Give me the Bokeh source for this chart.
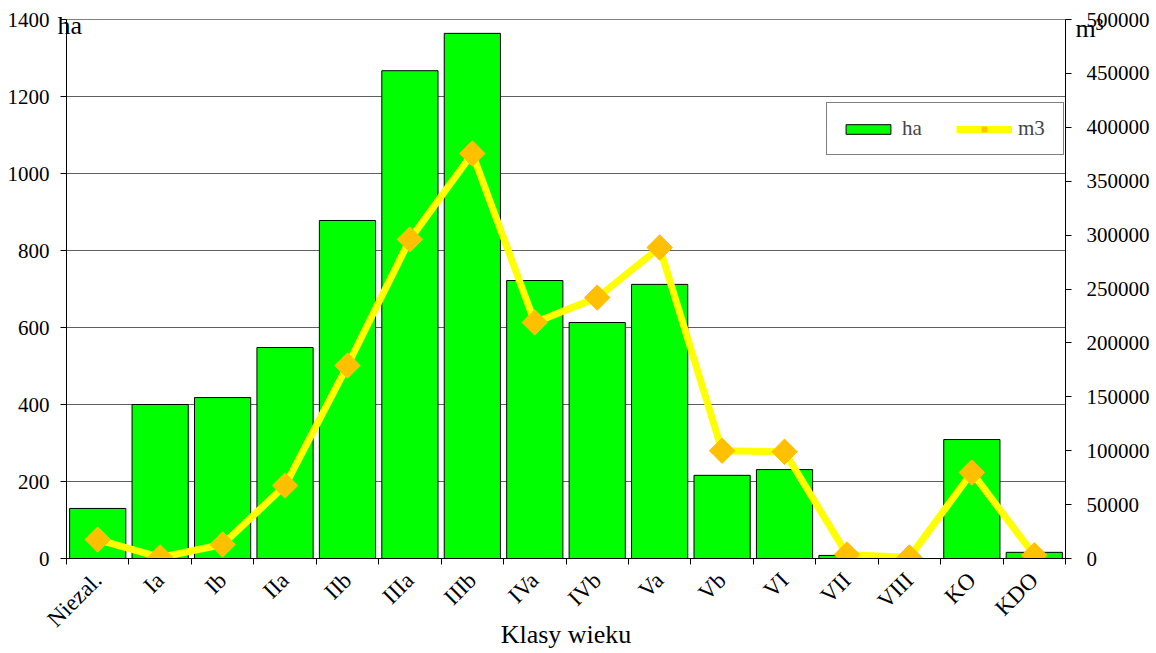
import numpy as np
from bokeh.plotting import figure
from bokeh.models import (Range1d, LinearAxis, FixedTicker, SingleIntervalTicker,
                          Legend, LegendItem, Title, NumeralTickFormatter, ColumnDataSource)
from bokeh.embed import file_html
from bokeh.resources import INLINE

categories = ["Niezal.", "Ia", "Ib", "IIa", "IIb", "IIIa", "IIIb", "IVa", "IVb",
              "Va", "Vb", "VI", "VII", "VIII", "KO", "KDO"]
area_ha = [130, 400, 418, 548, 878, 1267, 1364, 722, 613, 712, 216, 231, 8, 0, 309, 16]
volume_m3 = [17600, 1000, 13000, 67700, 179000, 296000, 375700, 219000, 242000,
             288500, 100000, 99000, 3700, 1000, 79800, 3000]

n = len(categories)
xc = np.arange(n) + 0.5
src = ColumnDataSource(dict(x=xc, ha=area_ha, m3=volume_m3, cat=categories))

FONT = "Liberation Serif"

p = figure(frame_width=999, frame_height=539, output_backend="svg", toolbar_location=None,
           x_range=Range1d(0, n), y_range=Range1d(0, 1400),
           min_border_left=66, min_border_right=85, min_border_top=19, min_border_bottom=80)
p.extra_y_ranges = {"m3": Range1d(0, 500000)}

p.background_fill_color = "white"
p.border_fill_color = "white"
p.outline_line_color = "#808080"
p.outline_line_width = 1

bars = p.vbar(x="x", top="ha", width=0.9, source=src, fill_color="#00FF00",
              line_color="black", line_width=1)
ln = p.line(x="x", y="m3", source=src, y_range_name="m3", line_color="#FFFF00", line_width=7)
mk = p.scatter(x="x", y="m3", source=src, y_range_name="m3", marker="square", angle=np.pi/4,
               size=18, fill_color="#FFC000", line_color="#FFC000")

xa = p.xaxis[0]
xa.ticker = FixedTicker(ticks=list(xc), minor_ticks=list(range(n + 1)))
xa.major_label_overrides = {float(v): c for v, c in zip(xc, categories)}
xa.major_tick_line_color = None
xa.minor_tick_in = 0
xa.minor_tick_out = 6
xa.minor_tick_line_color = "black"
xa.axis_line_color = "black"
xa.major_label_orientation = np.pi / 4
xa.major_label_standoff = 12
xa.major_label_text_font = FONT
xa.major_label_text_font_size = "23px"
xa.major_label_text_color = "black"
xa.axis_label = "Klasy wieku"
xa.axis_label_text_font = FONT
xa.axis_label_text_font_size = "26px"
xa.axis_label_text_font_style = "normal"
xa.axis_label_text_color = "black"
xa.axis_label_standoff = -24

ya = p.yaxis[0]
ya.ticker = SingleIntervalTicker(interval=200)
ya.major_tick_in = 0
ya.major_tick_out = 6
ya.minor_tick_line_color = None
ya.axis_line_color = "black"
ya.major_label_text_font = FONT
ya.major_label_text_font_size = "21px"
ya.major_label_text_color = "black"
ya.major_label_standoff = 11

ra = LinearAxis(y_range_name="m3", ticker=SingleIntervalTicker(interval=50000),
                formatter=NumeralTickFormatter(format="0"))
ra.major_tick_in = 0
ra.major_tick_out = 6
ra.minor_tick_line_color = None
ra.axis_line_color = "black"
ra.major_label_text_font = FONT
ra.major_label_text_font_size = "21px"
ra.major_label_text_color = "black"
ra.major_label_standoff = 15
p.add_layout(ra, "right")

p.xgrid.grid_line_color = None
p.ygrid.ticker = SingleIntervalTicker(interval=200)
p.ygrid.grid_line_color = "#606060"
p.ygrid.grid_line_width = 1

t_ha = Title(text="ha", align="left", offset=-9, standoff=-40, text_font=FONT,
             text_font_size="26px", text_font_style="normal", text_color="black")
t_m3 = Title(text="m³", align="right", offset=-38, standoff=-47, text_font=FONT,
             text_font_size="26px", text_font_style="normal", text_color="black")
p.add_layout(t_ha, "above")
p.add_layout(t_m3, "above")

legend = Legend(items=[LegendItem(label="ha", renderers=[bars]),
                       LegendItem(label="m3", renderers=[ln, mk])],
                orientation="horizontal", location=(760, 403))
legend.label_text_font = FONT
legend.label_text_font_size = "21px"
legend.glyph_width = 56
legend.glyph_height = 12
legend.label_standoff = 6
legend.label_width = 32
legend.padding = 13
legend.spacing = 22
legend.margin = 0
legend.border_line_color = "black"
legend.border_line_width = 1
legend.background_fill_alpha = 1
p.add_layout(legend, "center")

open("out.html", "w").write(file_html(p, INLINE))
